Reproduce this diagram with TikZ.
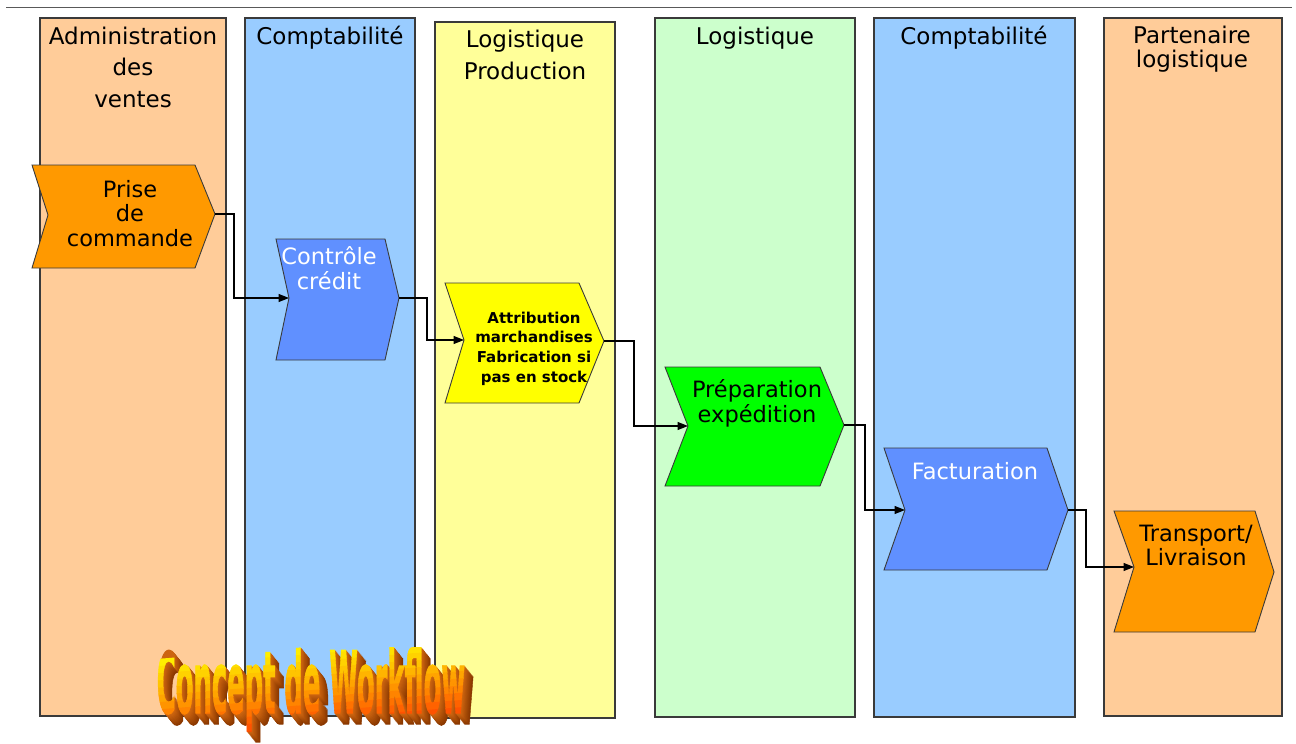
\documentclass[tikz,border=0pt]{standalone}
\usepackage{fontspec}
\setmainfont{DejaVu Sans}
\newfontfamily\titlefont{DejaVu Sans}[FakeBold=1.5]
\usetikzlibrary{arrows.meta}

\definecolor{laneOrange}{HTML}{FFCC99}
\definecolor{laneBlue}{HTML}{99CCFF}
\definecolor{laneYellow}{HTML}{FFFF99}
\definecolor{laneGreen}{HTML}{CCFFCC}
\definecolor{stepOrange}{HTML}{FF9900}
\definecolor{stepBlue}{HTML}{6090FF}
\definecolor{stepYellow}{HTML}{FFFF00}
\definecolor{stepGreen}{HTML}{00FF00}
\definecolor{edge}{HTML}{3A3A3A}
\definecolor{depthFar}{HTML}{8A3800}
\definecolor{depthNear}{HTML}{CC6410}

% centred multi-line text whose baseline is the first line
\newcommand\stack[1]{\begin{tabular}[t]{@{}c@{}}#1\end{tabular}}
% process step: name, fill, left, right of top edge, top, bottom, tip, notch
\newcommand\chev[8]{%
  \filldraw[chevbox, fill=#2] (#3,#5) -- (#4,#5) -- (#7) -- (#4,#6) -- (#3,#6) -- (#8) -- cycle;
  \coordinate (#1-out) at (#7);
  \coordinate (#1-in) at (#8);
}

\begin{document}
\begin{tikzpicture}[x=1pt,y=-1pt,
  lanebox/.style={draw=edge, line width=1.2pt},
  chevbox/.style={draw=edge, line width=0.9pt, line join=miter},
  head/.style={inner sep=0pt, anchor=base, font=\fontsize{23}{31.5}\selectfont},
  lbl/.style={inner sep=0pt, anchor=base, font=\fontsize{22.5}{24.5}\selectfont},
  conn/.style={draw=black, line width=1.2pt, -{Triangle[length=10.5pt,width=8pt]}},
  wa/.style={inner sep=0pt, anchor=base, xscale=0.3, font=\titlefont\bfseries\fontsize{86}{86}\selectfont},
]
\useasboundingbox (0,0) rectangle (1296,744);

% rule across the top
\draw[black!65, line width=1pt] (6,7) -- (1292,7);

% swimlanes
\filldraw[lanebox, fill=laneOrange] (40,18) rectangle (226,716);
\filldraw[lanebox, fill=laneBlue]   (245,18) rectangle (415,716);
\filldraw[lanebox, fill=laneYellow] (435,22) rectangle (615,718);
\filldraw[lanebox, fill=laneGreen]  (655,18) rectangle (855,717);
\filldraw[lanebox, fill=laneBlue]   (874,18) rectangle (1075,717);
\filldraw[lanebox, fill=laneOrange] (1104,18) rectangle (1282,716);

% lane titles
\node[head] (h1) at (133,44.5) {\stack{Administration\\des\\ventes}};
\node[head] (h2) at (330,44.5) {Comptabilité};
\node[head] (h3) at (525,47.5) {\stack{Logistique\\Production}};
\node[head] (h4) at (755,44.5) {Logistique};
\node[head] (h5) at (974,44.5) {Comptabilité};
\node[head, font=\fontsize{23}{23}\selectfont] (h6) at (1192,43.5) {\stack{Partenaire\\logistique}};

% process steps
\chev{pc}{stepOrange}{32}{195}{165}{268}{215,214}{48,215}
\chev{cc}{stepBlue}{276}{385}{239}{360}{399,298}{289,298}
\chev{at}{stepYellow}{445}{579}{283}{403}{604,341}{464,340}
\chev{pe}{stepGreen}{665}{820}{367}{486}{844,425}{688,426}
\chev{fa}{stepBlue}{884}{1047}{448}{570}{1068,510}{905,510}
\chev{tl}{stepOrange}{1114}{1255}{511}{632}{1274,572}{1134,567}

\node[lbl] (pc-t) at (130,197) {\stack{Prise\\de\\commande}};
\node[lbl, text=white] (cc-t) at (329,264) {\stack{Contrôle\\crédit}};
\node[lbl, font=\bfseries\fontsize{15}{19.7}\selectfont] (at-t) at (534,323)
  {\stack{Attribution\\marchandises\\Fabrication si\\pas en stock}};
\node[lbl] (pe-t) at (757,397) {\stack{Préparation\\expédition}};
\node[lbl, text=white] (fa-t) at (975,479) {Facturation};
\node[lbl] (tl-t) at (1196,541) {\stack{Transport/\\Livraison}};

% flow
\draw[conn] (pc-out) -- ++(19,0) |- (cc-in);
\draw[conn] (cc-out) -- ++(28,0) |- (at-in);
\draw[conn] (at-out) -- ++(30,0) |- (pe-in);
\draw[conn] (pe-out) -- ++(21,0) |- (fa-in);
\draw[conn] (fa-out) -- ++(18,0) |- (tl-in);

% extruded title: depth layers, far to near
\foreach \k in {11,10,...,1}{
  \pgfmathtruncatemacro\p{100*(\k-1)/10}
  \begin{scope}[shift={(311+0.8*\k,713+1.0*\k)}, rotate=4.5]
    \node[wa, text=depthFar!\p!depthNear] (wx\k) at (0,0) {Concept de Workflow};
  \end{scope}
}
% front face, yellow to red from top to bottom
\foreach \k/\c in {0/FFEE00,1/FFE000,2/FFD200,3/FFC400,4/FFB400,5/FFA400,
                   6/FF9400,7/FF8400,8/FF7200,9/FF6200,10/FF5200,11/FF4400}{
  \definecolor{bandc}{HTML}{\c}
  \begin{scope}[shift={(311,713)}, rotate=4.5]
    \clip (-250,-66+7.2*\k) rectangle (250,-58.3+7.2*\k);
    \node[wa, text=bandc] (wf\k) at (0,0) {Concept de Workflow};
  \end{scope}
}
\end{tikzpicture}
\end{document}
